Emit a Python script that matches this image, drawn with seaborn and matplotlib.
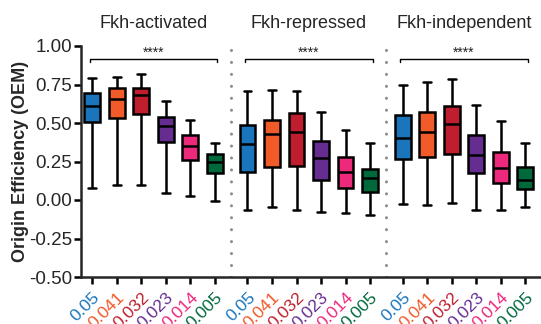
import numpy as np
import pandas as pd
import matplotlib
matplotlib.use("Agg")
import matplotlib.pyplot as plt
import seaborn as sns

groups = ["Fkh-activated", "Fkh-repressed", "Fkh-independent"]
concentrations = ["0.05", "0.041", "0.032", "0.023", "0.014", "0.005"]
conc_colors = ["#1A75BC", "#F15A29", "#BE1E2D", "#662D91", "#EC297B", "#00693C"]

# Five-number summaries (min, Q1, median, Q3, max) of origin efficiency per concentration
activated_min = [0.080, 0.095, 0.100, 0.043, 0.026, -0.006]
activated_q1 = [0.505, 0.532, 0.558, 0.375, 0.260, 0.175]
activated_med = [0.612, 0.658, 0.680, 0.483, 0.351, 0.245]
activated_q3 = [0.697, 0.730, 0.730, 0.537, 0.420, 0.297]
activated_max = [0.790, 0.797, 0.820, 0.643, 0.520, 0.368]

repressed_min = [-0.065, -0.043, -0.065, -0.078, -0.087, -0.100]
repressed_q1 = [0.180, 0.212, 0.221, 0.132, 0.076, 0.052]
repressed_med = [0.366, 0.429, 0.440, 0.273, 0.182, 0.143]
repressed_q3 = [0.487, 0.520, 0.567, 0.385, 0.281, 0.200]
repressed_max = [0.710, 0.714, 0.710, 0.573, 0.455, 0.368]

independent_min = [-0.028, -0.030, -0.017, -0.065, -0.065, -0.043]
independent_q1 = [0.264, 0.277, 0.299, 0.177, 0.108, 0.070]
independent_med = [0.405, 0.444, 0.492, 0.292, 0.208, 0.130]
independent_q3 = [0.552, 0.573, 0.610, 0.424, 0.314, 0.216]
independent_max = [0.747, 0.768, 0.786, 0.617, 0.511, 0.372]

significance = ["****", "****", "****"]
yticks = [-0.50, -0.25, 0.00, 0.25, 0.50, 0.75, 1.00]

summaries = [
    (activated_min, activated_q1, activated_med, activated_q3, activated_max),
    (repressed_min, repressed_q1, repressed_med, repressed_q3, repressed_max),
    (independent_min, independent_q1, independent_med, independent_q3, independent_max),
]

GROUP_STEP = 6.33  # six boxes plus a gap between groups

rows = []
for g, summ in enumerate(summaries):
    for i, conc in enumerate(concentrations):
        pos = g * GROUP_STEP + i
        for v in (summ[0][i], summ[1][i], summ[2][i], summ[3][i], summ[4][i]):
            rows.append({"group": groups[g], "conc": conc, "pos": pos, "oem": v})
df = pd.DataFrame(rows)

sns.set_style("ticks")
plt.rcParams["font.family"] = ["Liberation Sans", "DejaVu Sans"]

fig = plt.figure(figsize=(5.41, 3.24), dpi=100)
ax = fig.add_axes([80.7 / 541, 47 / 324, 1 - 80.7 / 541, (277 - 46) / 324])

palette = dict(zip(concentrations, conc_colors))
sns.boxplot(
    data=df, x="pos", y="oem", hue="conc", palette=palette,
    native_scale=True, dodge=False, whis=(0, 100), width=0.64,
    linecolor="black", linewidth=1.8, saturation=1, legend=False, ax=ax,
)

positions = sorted(df["pos"].unique())
ax.set_xlim(-0.47, 18.3)
ax.set_ylim(-0.5, 1.0)
ax.set_yticks(yticks)
ax.set_yticklabels([f"{t:.2f}" for t in yticks], fontsize=13.5)
ax.set_xticks(positions)
ax.set_xticklabels(concentrations * len(groups), fontsize=12.5, rotation=45,
                   ha="right", va="top", rotation_mode="anchor")
for lbl, col in zip(ax.get_xticklabels(), conc_colors * len(groups)):
    lbl.set_color(col)

ax.set_xlabel("")
ax.set_ylabel("Origin Efficiency (OEM)", fontsize=13, fontweight="bold")
ax.yaxis.set_label_coords(-(80.7 - 29) / 460.3, 0.5)

for side in ("top", "right"):
    ax.spines[side].set_visible(False)
for side in ("left", "bottom"):
    ax.spines[side].set_linewidth(1.8)
ax.tick_params(axis="both", width=1.8, length=5, color="black")
ax.tick_params(axis="y", pad=1)
ax.tick_params(axis="x", pad=4)

# dotted separators between groups
for g in range(len(groups) - 1):
    xs = g * GROUP_STEP + 5 + (GROUP_STEP - 5) / 2
    ax.vlines(xs, -0.5, 0.985, colors="#8c8c8c", linewidth=2.2,
              linestyles=(0, (0.01, 3.9)), capstyle="round")

# group titles and significance brackets
for g, name in enumerate(groups):
    x0 = g * GROUP_STEP
    xc = x0 + 2.5
    ax.text(xc, 1.148, name, ha="center", va="center", fontsize=13, clip_on=False)
    ax.plot([x0 - 0.1, x0 - 0.1, x0 + 5.1, x0 + 5.1], [0.895, 0.918, 0.918, 0.895],
            color="black", linewidth=1.0, clip_on=False)
    ax.text(xc, 0.928, significance[g], ha="center", va="baseline", fontsize=10,
            color="#222222")

fig.savefig("out.png", dpi=100)
